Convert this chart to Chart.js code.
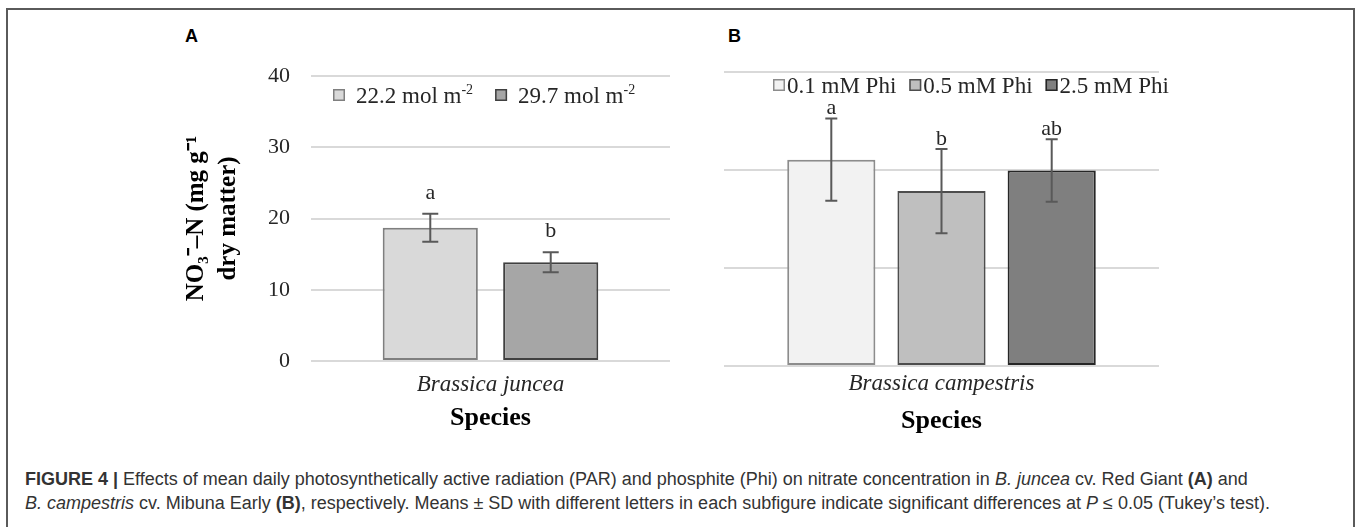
<!DOCTYPE html>
<html><head><meta charset="utf-8">
<script src="https://cdn.jsdelivr.net/npm/chart.js@4/dist/chart.umd.min.js"></script>
<style>
html,body{margin:0;padding:0;background:#fff;width:1357px;height:527px;overflow:hidden;position:relative;}
#frame{position:absolute;left:6px;top:8px;width:1349px;height:560px;border:2px solid #5a5a5a;border-bottom:none;box-sizing:border-box;}
.plabel{position:absolute;font-family:"Liberation Sans",Arial,sans-serif;font-weight:bold;font-size:18px;line-height:18px;color:#000;}
#wrapA{position:absolute;left:150px;top:50px;width:540px;height:400px;}
#wrapB{position:absolute;left:700px;top:40px;width:490px;height:410px;}
#caption{position:absolute;left:25px;top:468px;font-family:"Liberation Sans",Arial,sans-serif;font-size:18px;line-height:23.5px;color:#333;white-space:nowrap;}
</style></head>
<body>
<div id="frame"></div>
<div class="plabel" style="left:185px;top:27px;">A</div>
<div class="plabel" style="left:728px;top:27px;">B</div>
<div id="wrapA"><canvas id="chartA"></canvas></div>
<div id="wrapB"><canvas id="chartB"></canvas></div>
<div id="caption"><b>FIGURE 4 |</b> Effects of mean daily photosynthetically active radiation (PAR) and phosphite (Phi) on nitrate concentration in <i>B. juncea</i> cv. Red Giant <b>(A)</b> and<br><i>B. campestris</i> cv. Mibuna Early <b>(B)</b>, respectively. Means ± SD with different letters in each subfigure indicate significant differences at <i>P</i> ≤ 0.05 (Tukey’s test).</div>
<script>
// ---- data ----
const categoriesA = ['Brassica juncea'];
const seriesA = ['22.2 mol m⁻²', '29.7 mol m⁻²'];
const meansA = [18.7, 13.85];
const sdA = [1.95, 1.4];
const lettersA = ['a', 'b'];
const yTicksA = [0, 10, 20, 30, 40];

const categoriesB = ['Brassica campestris'];
const seriesB = ['0.1 mM Phi', '0.5 mM Phi', '2.5 mM Phi'];
const meansB = [21.05, 17.85, 19.95];
const sdB = [4.2, 4.3, 3.2];
const lettersB = ['a', 'b', 'ab'];
const yTicksB = [0, 10, 20, 30];

const fillsA = ['#d9d9d9', '#a6a6a6'];
const edgesA = ['#7f7f7f', '#404040'];
const fillsB = ['#f2f2f2', '#bfbfbf', '#7f7f7f'];
const edgesB = ['#8c8c8c', '#4d4d4d', '#262626'];

const SERIF = '"Liberation Serif","Times New Roman",serif';
const SUP = {'⁻':'-','²':'2','¹':'1','³':'3'};

function splitSup(label){
  let i = label.length;
  while (i > 0 && SUP[label[i-1]]) i--;
  return [label.slice(0,i), label.slice(i).split('').map(c=>SUP[c]).join('')];
}

const inlineLegend = {
  id: 'inlineLegend',
  afterDraw(chart, args, o) {
    const ctx = chart.ctx;
    ctx.save();
    let x = o.x;
    const y = o.y;
    chart.data.datasets.forEach(ds => {
      const b = o.box;
      ctx.fillStyle = ds.backgroundColor;
      ctx.fillRect(x, y - b/2, b, b);
      ctx.strokeStyle = ds.borderColor; ctx.lineWidth = 1.5;
      ctx.strokeRect(x + 0.75, y - b/2 + 0.75, b - 1.5, b - 1.5);
      x += b + o.textGap;
      const [base, sup] = splitSup(ds.label);
      ctx.fillStyle = o.color;
      ctx.textBaseline = 'alphabetic';
      ctx.textAlign = 'left';
      ctx.font = o.size + 'px ' + SERIF;
      const base_y = y + o.size * 0.33;
      ctx.fillText(base, x, base_y);
      x += ctx.measureText(base).width;
      if (sup) {
        ctx.font = Math.round(o.size * 0.62) + 'px ' + SERIF;
        ctx.fillText(sup, x, base_y - o.size * 0.38);
        x += ctx.measureText(sup).width;
      }
      x += o.itemGap;
    });
    ctx.restore();
  }
};

const errorBars = {
  id: 'errorBars',
  afterDatasetsDraw(chart, args, o) {
    const ctx = chart.ctx, ys = chart.scales.y;
    ctx.save();
    chart.data.datasets.forEach((ds, i) => {
      const meta = chart.getDatasetMeta(i);
      meta.data.forEach((bar, j) => {
        const v = ds.data[j], e = o.errors[i];
        const yt = ys.getPixelForValue(v + e), yb = ys.getPixelForValue(v - e);
        ctx.strokeStyle = o.color; ctx.lineWidth = o.width;
        ctx.beginPath();
        ctx.moveTo(bar.x, yt); ctx.lineTo(bar.x, yb);
        ctx.moveTo(bar.x - o.cap/2, yt); ctx.lineTo(bar.x + o.cap/2, yt);
        ctx.moveTo(bar.x - o.cap/2, yb); ctx.lineTo(bar.x + o.cap/2, yb);
        ctx.stroke();
        ctx.fillStyle = o.textColor;
        ctx.font = o.size + 'px ' + SERIF;
        ctx.textAlign = 'center'; ctx.textBaseline = 'middle';
        ctx.fillText(o.letters[i], bar.x, yt - o.letterGap);
      });
    });
    ctx.restore();
  }
};

function makeDatasets(names, means, fills, edges, cp, bp){
  return names.map((n, i) => ({
    label: n, data: [means[i]],
    backgroundColor: fills[i], borderColor: edges[i], borderWidth: 2,
    borderSkipped: false, categoryPercentage: cp, barPercentage: bp
  }));
}

Chart.register(inlineLegend, errorBars);

new Chart(document.getElementById('chartA'), {
  type: 'bar',
  data: { labels: categoriesA, datasets: makeDatasets(seriesA, meansA, fillsA, edgesA, 0.671, 0.79) },
  options: {
    responsive: true, maintainAspectRatio: false, animation: false,
    layout: { padding: { left: 0, right: 20, top: 26, bottom: 0 } },
    plugins: {
      legend: { display: false }, tooltip: { enabled: false },
      inlineLegend: { x: 183, y: 45, box: 12, textGap: 11, itemGap: 22, size: 23, color: '#262626' },
      errorBars: { errors: sdA, letters: lettersA, color: '#595959', width: 2, cap: 16, letterGap: 21, size: 22, textColor: '#262626' }
    },
    scales: {
      x: {
        grid: { display: false }, border: { display: false },
        ticks: { color: '#262626', padding: 2, font: { family: SERIF, size: 23, style: 'italic' } },
        title: { display: true, text: 'Species', color: '#000', font: { family: SERIF, size: 26, weight: 'bold', lineHeight: 1.2 }, padding: { top: 0, bottom: 16 } },
        afterFit: s => { s.height = 89; }
      },
      y: {
        min: 0, max: 40,
        afterBuildTicks: s => { s.ticks = yTicksA.map(v => ({ value: v })); },
        grid: { color: '#d9d9d9', lineWidth: 2, drawTicks: false },
        border: { display: false },
        ticks: { color: '#262626', padding: 21, font: { family: SERIF, size: 22, lineHeight: 0.4 } },
        title: { display: true, text: ['NO₃⁻–N (mg g⁻¹', 'dry matter)'], color: '#000', font: { family: SERIF, size: 25, weight: 'bold', lineHeight: 1.3 }, padding: { top: 30, bottom: 0 } },
        afterFit: s => { s.width = 161; }
      }
    }
  }
});

new Chart(document.getElementById('chartB'), {
  type: 'bar',
  data: { labels: categoriesB, datasets: makeDatasets(seriesB, meansB, fillsB, edgesB, 0.76, 0.8) },
  options: {
    responsive: true, maintainAspectRatio: false, animation: false,
    layout: { padding: { left: 24, right: 31, top: 32, bottom: 0 } },
    plugins: {
      legend: { display: false }, tooltip: { enabled: false },
      inlineLegend: { x: 73, y: 45, box: 12, textGap: 2, itemGap: 13, size: 23, color: '#262626' },
      errorBars: { errors: sdB, letters: lettersB, color: '#595959', width: 2, cap: 12, letterGap: 10, size: 22, textColor: '#262626' }
    },
    scales: {
      x: {
        grid: { display: false }, border: { display: false },
        ticks: { color: '#262626', padding: -4, font: { family: SERIF, size: 23, style: 'italic' } },
        title: { display: true, text: 'Species', color: '#000', font: { family: SERIF, size: 26, weight: 'bold', lineHeight: 1.2 }, padding: { top: 0, bottom: 13 } },
        afterFit: s => { s.height = 84; }
      },
      y: {
        min: 0, max: 30,
        afterBuildTicks: s => { s.ticks = yTicksB.map(v => ({ value: v })); },
        grid: { color: '#d9d9d9', lineWidth: 2, drawTicks: false },
        border: { display: false },
        ticks: { display: false },
        afterFit: s => { s.width = 0; }
      }
    }
  }
});
</script>
</body></html>
